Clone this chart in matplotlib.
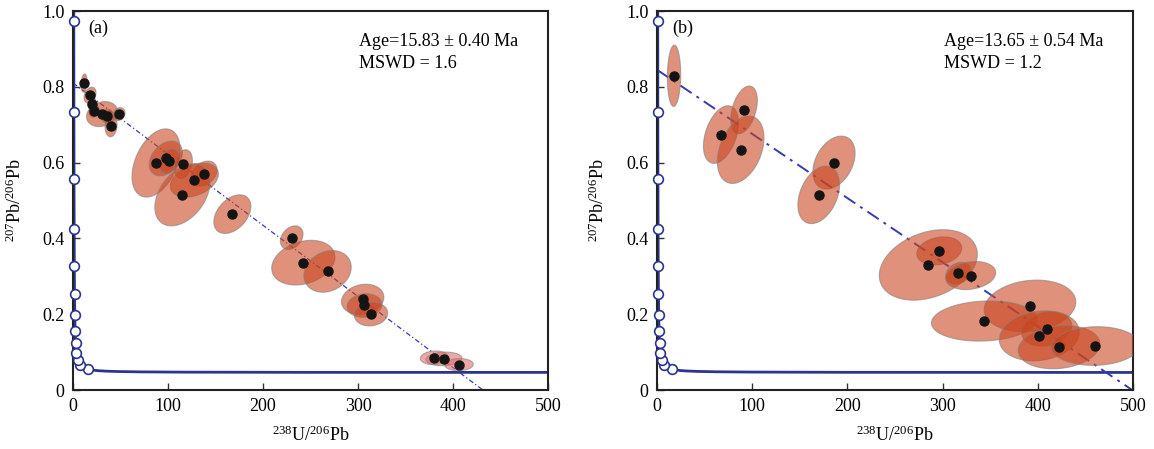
import numpy as np
import matplotlib
matplotlib.use("Agg")
import matplotlib.pyplot as plt
from matplotlib.patches import Polygon

plt.rcParams['font.family'] = ['Liberation Serif', 'DejaVu Serif']
plt.rcParams['mathtext.fontset'] = 'custom'
plt.rcParams['mathtext.rm'] = 'Liberation Serif'

# U decay constants (1/yr) and present 238U/235U
L238 = 1.55125e-10
L235 = 9.8485e-10
U85 = 137.88
# concordia age markers, Ma
marker_ages = [400, 800, 1200, 1600, 2000, 2400, 2800, 3200, 3600, 4000, 4400, 4800, 5200]

# panel (a): 238U/206Pb, 207Pb/206Pb, 2-sigma half widths, error correlation
a_x = [11.6, 17.9, 20.0, 22.1, 30.5, 35.8, 40.0, 48.4,
       87.4, 97.6, 101.4, 116.1, 137.9, 127.7, 115.1, 167.7,
       230.2, 242.4, 267.9, 304.9, 306.8, 313.7,
       380.3, 390.5, 406.3]
a_y = [0.810, 0.778, 0.755, 0.736, 0.728, 0.723, 0.697, 0.728,
       0.599, 0.611, 0.604, 0.596, 0.571, 0.554, 0.515, 0.464,
       0.402, 0.336, 0.313, 0.239, 0.223, 0.200,
       0.085, 0.082, 0.067]
a_sx = [3.2, 6.3, 4.2, 5.3, 16.3, 6.3, 6.3, 6.3,
        25.3, 17.4, 10.5, 9.5, 13.7, 25.3, 29.0, 19.5,
        11.9, 33.3, 24.9, 22.3, 18.4, 17.5,
        14.7, 19.0, 15.0]
a_sy = [0.024, 0.021, 0.016, 0.016, 0.033, 0.018, 0.029, 0.017,
        0.090, 0.046, 0.032, 0.038, 0.033, 0.045, 0.082, 0.051,
        0.031, 0.059, 0.055, 0.040, 0.031, 0.031,
        0.018, 0.018, 0.016]
a_rho = [0.2, 0.3, 0.2, 0.2, 0.2, 0.1, 0.1, 0.2,
         0.4, 0.35, 0.3, 0.25, 0.3, 0.35, 0.4, 0.4,
         0.3, 0.25, 0.2, 0.15, 0.1, 0.1,
         0.1, 0.1, 0.05]
a_pink = [22, 23, 24]

# panel (b)
b_x = [17.9, 67.2, 91.4, 87.9, 185.9, 169.9,
       296.5, 285.0, 316.5, 329.5,
       391.8, 343.8, 409.3, 401.6, 422.3, 460.4]
b_y = [0.829, 0.674, 0.739, 0.634, 0.600, 0.515,
       0.367, 0.330, 0.308, 0.302,
       0.222, 0.182, 0.161, 0.143, 0.113, 0.116]
b_sx = [7.0, 18.4, 14.0, 24.5, 22.2, 21.9,
        23.6, 51.5, 13.1, 26.3,
        48.1, 55.5, 26.3, 42.0, 42.9, 46.4]
b_sy = [0.081, 0.076, 0.063, 0.089, 0.070, 0.076,
        0.037, 0.093, 0.029, 0.037,
        0.068, 0.053, 0.045, 0.066, 0.057, 0.051]
b_rho = [0.05, 0.4, 0.4, 0.35, 0.35, 0.35,
         0.2, 0.3, 0.25, 0.2,
         0.15, 0.1, 0.2, 0.15, 0.15, 0.05]

# discordia: 207Pb/206Pb intercept at x=0 and lower intercept age (Ma)
a_age, a_err, a_mswd, a_y0 = 15.83, 0.40, 1.6, 0.81
b_age, b_err, b_mswd, b_y0 = 13.65, 0.54, 1.2, 0.845

ELL_FC = (0.79, 0.27, 0.12)
PINK_FC = (0.88, 0.42, 0.42)
BLUE = '#2b3590'


def tw_point(t_ma):
    t = np.asarray(t_ma) * 1e6
    e8 = np.exp(L238 * t) - 1
    e5 = np.exp(L235 * t) - 1
    return 1.0 / e8, e5 / (U85 * e8)


def ellipse_xy(cx, cy, sx, sy, rho, n=120):
    t = np.linspace(0, 2 * np.pi, n)
    ex = cx + sx * np.cos(t)
    ey = cy + sy * (rho * np.cos(t) + np.sqrt(1 - rho ** 2) * np.sin(t))
    return np.column_stack([ex, ey])


def draw_panel(ax, xs, ys, sxs, sys_, rhos, pink, age, err, mswd, y0,
               tag, dash, dlw):
    # concordia curve
    tc = np.linspace(5, 5600, 3000)
    cx, cy = tw_point(tc)
    ax.plot(cx, cy, color=BLUE, lw=2.0, zorder=2, clip_on=True)
    mx, my = tw_point(marker_ages)
    ax.plot(mx, my, 'o', ms=7, mfc='white', mec=BLUE, mew=1.2, zorder=3,
            clip_on=False)

    # discordia through the common-Pb intercept and lower intercept
    lx, ly = tw_point(age)
    slope = (ly - y0) / lx
    xl = np.array([0, 520])
    ax.plot(xl, y0 + slope * xl, color='#3a3ab0', lw=dlw, dashes=dash,
            zorder=2)

    for i in range(len(xs)):
        fc = PINK_FC if i in pink else ELL_FC
        poly = Polygon(ellipse_xy(xs[i], ys[i], sxs[i], sys_[i], rhos[i]),
                       closed=True, facecolor=fc, alpha=0.59,
                       edgecolor='#808080', lw=0.8, zorder=4)
        ax.add_patch(poly)
    ax.plot(xs, ys, 'o', ms=6.5, color='#141414', zorder=6)

    ax.set_xlim(0, 500)
    ax.set_ylim(0, 1.0)
    ax.set_xticks([0, 100, 200, 300, 400, 500])
    ax.set_yticks([0, 0.2, 0.4, 0.6, 0.8, 1.0])
    ax.set_yticklabels(['0', '0.2', '0.4', '0.6', '0.8', '1.0'])
    ax.tick_params(direction='in', length=5, width=1, labelsize=13, pad=6,
                   color='#333333')
    for s in ax.spines.values():
        s.set_linewidth(1.5)
        s.set_color('#222222')

    ax.set_xlabel(r'$\mathregular{^{238}U/^{206}Pb}$', fontsize=13)
    ax.set_ylabel(r'$\mathregular{^{207}Pb/^{206}Pb}$', fontsize=13)
    ax.xaxis.set_label_coords(0.5, -0.095)
    ax.yaxis.set_label_coords(-0.102, 0.5)

    ax.text(0.033, 0.955, tag, transform=ax.transAxes, fontsize=13,
            va='center', ha='left')
    ax.text(0.602, 0.92, 'Age=%.2f ± %.2f Ma' % (age, err),
            transform=ax.transAxes, fontsize=13, va='center', ha='left')
    ax.text(0.602, 0.862, 'MSWD = %.1f' % mswd,
            transform=ax.transAxes, fontsize=13, va='center', ha='left')


fig = plt.figure(figsize=(11.54, 4.49), dpi=100)
ax1 = fig.add_axes([0.0633, 0.1314, 0.4116, 0.8441])
ax2 = fig.add_axes([0.5693, 0.1314, 0.4125, 0.8441])

draw_panel(ax1, a_x, a_y, a_sx, a_sy, a_rho, a_pink, a_age, a_err, a_mswd,
           a_y0, '(a)', (4, 2, 1, 2), 0.9)
draw_panel(ax2, b_x, b_y, b_sx, b_sy, b_rho, [], b_age, b_err, b_mswd,
           b_y0, '(b)', (7, 3, 1.5, 3), 1.4)

fig.savefig('out.png', dpi=100)
